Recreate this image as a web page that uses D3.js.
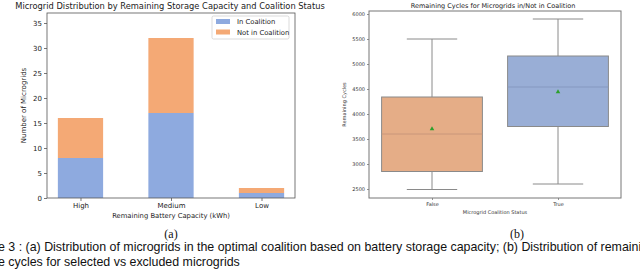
<!DOCTYPE html>
<html>
<head>
<meta charset="utf-8">
<script src="https://cdn.jsdelivr.net/npm/d3@7"></script>
<style>
  body { margin: 0; background: #fff; }
  svg { display: block; font-family: "DejaVu Sans", sans-serif; }
</style>
</head>
<body>
<div id="chart"></div>
<script>
// data for panel (a)
var capacityCats = ["High", "Medium", "Low"];
var inCoalition = [8, 17, 1];
var notInCoalition = [8, 15, 1];
var seriesNames = ["In Coalition", "Not in Coalition"];

// data for panel (b)
var statusCats = ["False", "True"];
var boxStats = [
  {status: "False", low: 2490, q1: 2850, median: 3600, q3: 4340, high: 5500, mean: 3700},
  {status: "True", low: 2600, q1: 3750, median: 4540, q3: 5160, high: 5900, mean: 4440}
];
var cycleTicks = [2500, 3000, 3500, 4000, 4500, 5000, 5500, 6000];
var countTicks = [0, 5, 10, 15, 20, 25, 30, 35];

var svg = d3.select("#chart").append("svg")
  .attr("width", 640).attr("height", 269);

// ---------- panel (a): stacked bars ----------
var a = {left: 47, right: 295, top: 13, bottom: 198};
var barColor = d3.scaleOrdinal().domain(seriesNames).range(["#8eaadf", "#f4a975"]);

var xA = d3.scaleLinear().domain([-0.37, 2.37]).range([a.left, a.right]);
var yA = d3.scaleLinear().domain([0, 37]).range([a.bottom, a.top]);

var stackData = capacityCats.map(function(c, i) {
  return {cat: c, i: i, "In Coalition": inCoalition[i], "Not in Coalition": notInCoalition[i]};
});
var stacked = d3.stack().keys(seriesNames)(stackData);

svg.append("g").selectAll("g")
  .data(stacked)
  .enter().append("g")
    .attr("fill", function(d) { return barColor(d.key); })
  .selectAll("rect")
  .data(function(d) { return d; })
  .enter().append("rect")
    .attr("x", function(d) { return xA(d.data.i - 0.25); })
    .attr("width", xA(0.25) - xA(-0.25))
    .attr("y", function(d) { return yA(d[1]); })
    .attr("height", function(d) { return yA(d[0]) - yA(d[1]); });

// frame
svg.append("rect")
  .attr("x", a.left).attr("y", a.top)
  .attr("width", a.right - a.left).attr("height", a.bottom - a.top)
  .attr("fill", "none").attr("stroke", "#555").attr("stroke-width", 0.8);

var yAxisA = svg.append("g")
  .attr("transform", "translate(" + a.left + ",0)")
  .call(d3.axisLeft(yA).tickValues(countTicks).tickSize(3).tickPadding(2));
var xAxisA = svg.append("g")
  .attr("transform", "translate(0," + a.bottom + ")")
  .call(d3.axisBottom(xA).tickValues([0, 1, 2]).tickFormat(function(d) { return capacityCats[d]; }).tickSize(3).tickPadding(2));
[yAxisA, xAxisA].forEach(function(g) {
  g.select(".domain").remove();
  g.selectAll("line").attr("stroke", "#555").attr("stroke-width", 0.8);
  g.selectAll("text").attr("fill", "#222").style("font-size", "7px").style("font-family", "DejaVu Sans");
});

svg.append("text")
  .attr("x", (a.left + a.right) / 2 - 1).attr("y", 9)
  .attr("text-anchor", "middle").style("font-size", "8.3px").attr("fill", "#222")
  .text("Microgrid Distribution by Remaining Storage Capacity and Coalition Status");

svg.append("text")
  .attr("transform", "translate(26," + ((a.top + a.bottom) / 2) + ") rotate(-90)")
  .attr("text-anchor", "middle").style("font-size", "7px").attr("fill", "#222")
  .text("Number of Microgrids");

svg.append("text")
  .attr("x", (a.left + a.right) / 2).attr("y", 218)
  .attr("text-anchor", "middle").style("font-size", "6.8px").attr("fill", "#222")
  .text("Remaining Battery Capacity (kWh)");

// legend
var lg = svg.append("g").attr("transform", "translate(212,16)");
lg.append("rect").attr("width", 77).attr("height", 23)
  .attr("fill", "#fff").attr("stroke", "#ccc").attr("stroke-width", 0.7).attr("rx", 1.5);
var legend = lg.selectAll(".legend")
  .data(seriesNames)
  .enter().append("g")
  .attr("class", "legend")
  .attr("transform", function(d, i) { return "translate(4," + (3 + i * 10.5) + ")"; });
legend.append("rect")
  .attr("width", 14).attr("height", 5)
  .attr("fill", function(d) { return barColor(d); });
legend.append("text")
  .attr("x", 21).attr("y", 5)
  .style("font-size", "6.8px").attr("fill", "#222")
  .text(function(d) { return d; });

// ---------- panel (b): box plot ----------
var b = {left: 369, right: 621, top: 11, bottom: 198};
var boxColor = d3.scaleOrdinal().domain(statusCats).range(["#e5ad87", "#99aed6"]);
var medColor = d3.scaleOrdinal().domain(statusCats).range(["#c9967a", "#8598c0"]);

var xB = d3.scaleLinear().domain([-0.5, 1.5]).range([b.left, b.right]);
var yB = d3.scaleLinear().domain([2320, 6060]).range([b.bottom, b.top]);

var boxes = svg.append("g").selectAll("g")
  .data(boxStats)
  .enter().append("g");

// whiskers
boxes.append("line")
  .attr("x1", function(d, i) { return xB(i); }).attr("x2", function(d, i) { return xB(i); })
  .attr("y1", function(d) { return yB(d.high); }).attr("y2", function(d) { return yB(d.q3); })
  .attr("stroke", "#8a8a8a").attr("stroke-width", 1);
boxes.append("line")
  .attr("x1", function(d, i) { return xB(i); }).attr("x2", function(d, i) { return xB(i); })
  .attr("y1", function(d) { return yB(d.q1); }).attr("y2", function(d) { return yB(d.low); })
  .attr("stroke", "#8a8a8a").attr("stroke-width", 1);
boxes.selectAll(".cap")
  .data(function(d, i) { return [{v: d.high, i: i}, {v: d.low, i: i}]; })
  .enter().append("line")
  .attr("x1", function(d) { return xB(d.i - 0.2); }).attr("x2", function(d) { return xB(d.i + 0.2); })
  .attr("y1", function(d) { return yB(d.v); }).attr("y2", function(d) { return yB(d.v); })
  .attr("stroke", "#8a8a8a").attr("stroke-width", 1);

boxes.append("rect")
  .attr("x", function(d, i) { return xB(i - 0.4); })
  .attr("width", xB(0.4) - xB(-0.4))
  .attr("y", function(d) { return yB(d.q3); })
  .attr("height", function(d) { return yB(d.q1) - yB(d.q3); })
  .attr("fill", function(d) { return boxColor(d.status); })
  .attr("stroke", "#8a8a8a").attr("stroke-width", 1);

boxes.append("line")
  .attr("x1", function(d, i) { return xB(i - 0.4); }).attr("x2", function(d, i) { return xB(i + 0.4); })
  .attr("y1", function(d) { return yB(d.median); }).attr("y2", function(d) { return yB(d.median); })
  .attr("stroke", function(d) { return medColor(d.status); }).attr("stroke-width", 1);

boxes.append("path")
  .attr("transform", function(d, i) { return "translate(" + xB(i) + "," + yB(d.mean) + ")"; })
  .attr("d", d3.symbol().type(d3.symbolTriangle).size(9))
  .attr("fill", "#2ca02c");

svg.append("rect")
  .attr("x", b.left).attr("y", b.top)
  .attr("width", b.right - b.left).attr("height", b.bottom - b.top)
  .attr("fill", "none").attr("stroke", "#777").attr("stroke-width", 1);

var yAxisB = svg.append("g")
  .attr("transform", "translate(" + b.left + ",0)")
  .call(d3.axisLeft(yB).tickValues(cycleTicks).tickFormat(d3.format("d")).tickSize(2).tickPadding(2));
var xAxisB = svg.append("g")
  .attr("transform", "translate(0," + b.bottom + ")")
  .call(d3.axisBottom(xB).tickValues([0, 1]).tickFormat(function(d) { return statusCats[d]; }).tickSize(2).tickPadding(2));
[yAxisB, xAxisB].forEach(function(g) {
  g.select(".domain").remove();
  g.selectAll("line").attr("stroke", "#777").attr("stroke-width", 0.8);
  g.selectAll("text").attr("fill", "#333").style("font-size", "5px").style("font-family", "DejaVu Sans");
});

svg.append("text")
  .attr("x", (b.left + b.right) / 2 - 2).attr("y", 8)
  .attr("text-anchor", "middle").style("font-size", "6.5px").attr("fill", "#222")
  .text("Remaining Cycles for Microgrids in/Not in Coalition");

svg.append("text")
  .attr("transform", "translate(346," + ((b.top + b.bottom) / 2) + ") rotate(-90)")
  .attr("text-anchor", "middle").style("font-size", "5px").attr("fill", "#333")
  .text("Remaining Cycles");

svg.append("text")
  .attr("x", (b.left + b.right) / 2).attr("y", 214)
  .attr("text-anchor", "middle").style("font-size", "5px").attr("fill", "#333")
  .text("Microgrid Coalition Status");

// ---------- caption ----------
svg.append("text")
  .attr("x", 171).attr("y", 238)
  .attr("text-anchor", "middle").attr("fill", "#111")
  .style("font-size", "12px").style("font-family", "Liberation Serif")
  .text("(a)");
svg.append("text")
  .attr("x", 517).attr("y", 238)
  .attr("text-anchor", "middle").attr("fill", "#111")
  .style("font-size", "12px").style("font-family", "Liberation Serif")
  .text("(b)");
svg.append("text")
  .attr("x", -2).attr("y", 251)
  .attr("fill", "#111")
  .style("font-size", "12.4px").style("font-family", "Liberation Sans")
  .text("e 3 : (a) Distribution of microgrids in the optimal coalition based on battery storage capacity; (b) Distribution of remaining");
svg.append("text")
  .attr("x", -2).attr("y", 266)
  .attr("fill", "#111")
  .style("font-size", "12.4px").style("font-family", "Liberation Sans")
  .text("e cycles for selected vs excluded microgrids");
</script>
</body>
</html>
